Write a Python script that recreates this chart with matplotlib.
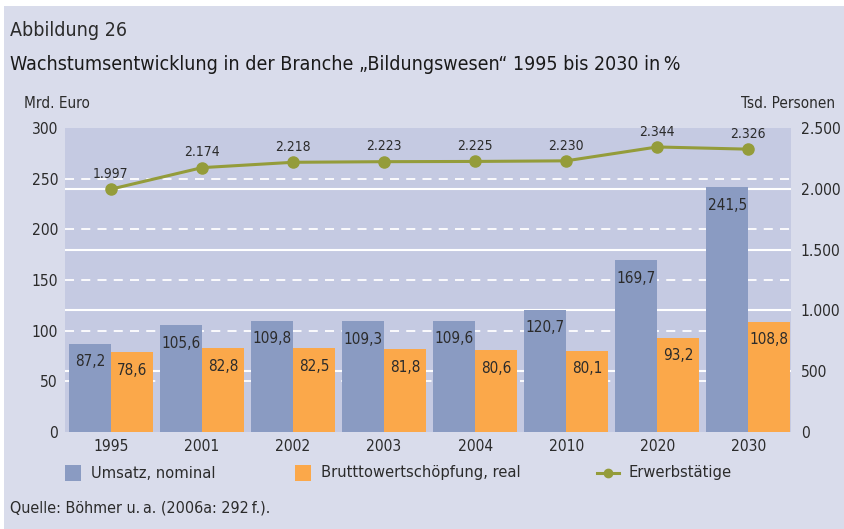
import matplotlib
matplotlib.use('Agg')
import matplotlib.pyplot as plt
from matplotlib.patches import Rectangle
from matplotlib.lines import Line2D
import numpy as np

plt.rcParams['font.family'] = ['DejaVu Sans']
plt.rcParams['font.stretch'] = 'condensed'

years = ['1995', '2001', '2002', '2003', '2004', '2010', '2020', '2030']
umsatz = [87.2, 105.6, 109.8, 109.3, 109.6, 120.7, 169.7, 241.5]
wertschoepfung = [78.6, 82.8, 82.5, 81.8, 80.6, 80.1, 93.2, 108.8]
erwerbstaetige = [1997, 2174, 2218, 2223, 2225, 2230, 2344, 2326]

left_ticks = [0, 50, 100, 150, 200, 250, 300]
right_ticks = [0, 500, 1000, 1500, 2000, 2500]

blue = '#8a9bc2'
orange = '#fba84a'
green = '#949c3a'
text_col = '#2b2b2b'
fig_bg = '#d9dceb'
plot_bg = '#c5cae2'

W, H = 845, 529
fig = plt.figure(figsize=(W / 100, H / 100), dpi=100)
fig.patch.set_facecolor('white')
fig.patches.append(Rectangle((4 / W, 0), 1, 1 - 6 / H, transform=fig.transFigure,
                             facecolor=fig_bg, edgecolor='none', zorder=-10))

ax = fig.add_axes([65 / W, 1 - 432 / H, (791 - 65) / W, (432 - 128) / H])
ax.set_facecolor(plot_bg)
ax2 = ax.twinx()

x = np.arange(len(years))
bw = 0.46

ax.set_ylim(0, 300)
ax2.set_ylim(0, 2500)
ax.set_xlim(-0.505, 7.47)

# dashed lines follow the left scale, solid ones the right scale
for v in left_ticks[1:-1]:
    ax.axhline(v, color='white', lw=1.3, ls=(0, (5, 4)), zorder=1)
for v in right_ticks[1:-1]:
    ax.axhline(v * 300 / 2500, color='white', lw=1.5, zorder=1)

ax.bar(x - bw / 2, umsatz, bw, color=blue, zorder=2)
ax.bar(x + bw / 2, wertschoepfung, bw, color=orange, zorder=2)

for xi, v in zip(x, umsatz):
    ax.annotate(f'{v:.1f}'.replace('.', ','), (xi - bw / 2, v), xytext=(0, -13),
                textcoords='offset points', ha='center', va='center',
                fontsize=11, color=text_col, zorder=3)
for xi, v in zip(x, wertschoepfung):
    ax.annotate(f'{v:.1f}'.replace('.', ','), (xi + bw / 2, v), xytext=(0, -13),
                textcoords='offset points', ha='center', va='center',
                fontsize=11, color=text_col, zorder=3)

ax2.plot(x, erwerbstaetige, color=green, lw=2.2, marker='o', ms=8, zorder=4)
for xi, v in zip(x, erwerbstaetige):
    ax2.annotate(f'{v:,}'.replace(',', '.'), (xi, v), xytext=(0, 11),
                 textcoords='offset points', ha='center', va='center',
                 fontsize=10, color=text_col)

for a in (ax, ax2):
    for s in a.spines.values():
        s.set_visible(False)
    a.tick_params(length=0, colors=text_col, labelsize=11.2)

ax.set_yticks(left_ticks)
ax.set_yticklabels([str(v) for v in left_ticks])
ax.tick_params(axis='y', pad=5)
ax2.set_yticks(right_ticks)
ax2.set_yticklabels([f'{v:,}'.replace(',', '.') for v in right_ticks])
ax2.tick_params(axis='y', pad=7)
ax.set_xticks(x)
ax.set_xticklabels(years)
ax.tick_params(axis='x', pad=5)

# texts
fig.text(10 / W, 1 - 30 / H, 'Abbildung 26', fontsize=14, color=text_col, va='center')
fig.text(10 / W, 1 - 65 / H, 'Wachstumsentwicklung in der Branche \u201eBildungswesen\u201c 1995 bis 2030 in\u2009%',
         fontsize=14, color='#1a1a1a', va='center')
fig.text(24 / W, 1 - 103 / H, 'Mrd. Euro', fontsize=11, color=text_col, va='center')
fig.text(835 / W, 1 - 103 / H, 'Tsd. Personen', fontsize=11, color=text_col, va='center', ha='right')
fig.text(10 / W, 1 - 508 / H, 'Quelle: Böhmer u.\u2009a. (2006a: 292\u2009f.).', fontsize=11.5,
         color=text_col, va='center')

# legend drawn by hand
ly = 1 - 473 / H
fig.patches.append(Rectangle((65 / W, 1 - 481 / H), 16 / W, 16 / H, transform=fig.transFigure,
                             facecolor=blue, edgecolor='none'))
fig.text(91 / W, ly, 'Umsatz, nominal', fontsize=11.8, color=text_col, va='center')
fig.patches.append(Rectangle((295 / W, 1 - 481 / H), 16 / W, 16 / H, transform=fig.transFigure,
                             facecolor=orange, edgecolor='none'))
fig.text(321 / W, ly, 'Brutttowertschöpfung, real', fontsize=11.8, color=text_col, va='center')
fig.lines.append(Line2D([597 / W, 619 / W], [ly, ly], transform=fig.transFigure, color=green, lw=2.2))
fig.lines.append(Line2D([608 / W], [ly], transform=fig.transFigure, color=green, marker='o', ms=6))
fig.text(629 / W, ly, 'Erwerbstätige', fontsize=11.8, color=text_col, va='center')

fig.savefig('out.png', dpi=100, facecolor=fig.get_facecolor())
